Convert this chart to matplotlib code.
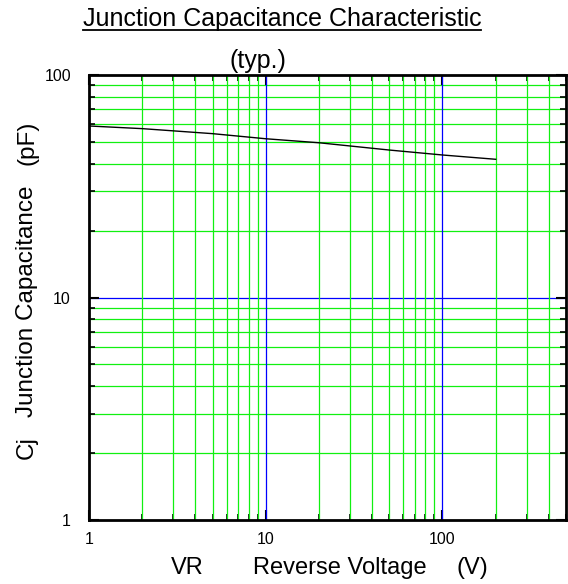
import matplotlib
matplotlib.use("Agg")
import matplotlib.pyplot as plt
from matplotlib.lines import Line2D
import numpy as np

plt.rcParams['font.family'] = ['Liberation Sans', 'DejaVu Sans']

voltage = [1, 2, 5, 10, 20, 50, 100, 200]
capacitance = [59.0, 57.4, 54.5, 51.7, 49.6, 46.0, 43.7, 41.8]

x_ticks = [1, 10, 100]
x_ticklabels = ["1", "10", "100"]
y_ticks = [1, 10, 100]
y_ticklabels = ["1", "10", "100"]

fig = plt.figure(figsize=(5.68, 5.84), dpi=100)
W, H = 568, 584
left, right, top, bottom = 89, 566, 75, 520
ax = fig.add_axes([left / W, 1 - bottom / H, (right - left) / W, (bottom - top) / H])
ax.set_xscale('log')
ax.set_yscale('log')
ax.set_xlim(1, 500)
ax.set_ylim(1, 100)

# grid lines
green = '#11f011'
blue = '#0000ff'
for dec in [1, 10, 100]:
    for m in range(2, 10):
        v = dec * m
        if v < 500:
            ax.axvline(v, color=green, lw=0.9, zorder=1.6)
for dec in [1, 10]:
    for m in range(2, 10):
        ax.axhline(dec * m, color=green, lw=0.9, zorder=1)
ax.axvline(10, color=blue, lw=0.9, zorder=1.7)
ax.axvline(100, color=blue, lw=0.9, zorder=1.7)
ax.axhline(10, color=blue, lw=0.9, zorder=1.5)

ax.plot(voltage, capacitance, color='black', lw=1.0, zorder=3)

ax.set_xticks(x_ticks)
ax.set_xticklabels(x_ticklabels)
ax.set_yticks(y_ticks)
ax.set_yticklabels(y_ticklabels)
ax.tick_params(which='both', direction='in', top=True, right=True, color='black')
ax.tick_params(which='major', length=7, width=1.5, labelsize=11.5)
ax.tick_params(axis='y', which='major', pad=13)
ax.tick_params(axis='x', which='major', pad=9)
ax.tick_params(which='minor', length=4, width=1.2)
ax.xaxis.set_minor_formatter(matplotlib.ticker.NullFormatter())
ax.yaxis.set_minor_formatter(matplotlib.ticker.NullFormatter())
for s in ax.spines.values():
    s.set_linewidth(2)
    s.set_zorder(4)

def ftext(x, y, s, **kw):
    return fig.text(x / W, 1 - y / H, s, **kw)

# x axis label pieces
ftext(171, 568, "VR", ha='left', va='center', fontsize=17)
ftext(253, 568, "Reverse Voltage", ha='left', va='center', fontsize=17)
ftext(457, 568, "(V)", ha='left', va='center', fontsize=17)

# y axis label pieces
ftext(27, 448, "Cj", ha='center', va='center', fontsize=17.5, rotation=90)
ftext(27, 301, "Junction Capacitance", ha='center', va='center', fontsize=17.5, rotation=90)
ftext(27, 143, "(pF)", ha='center', va='center', fontsize=17.5, rotation=90)

t = ftext(282, 19, "Junction Capacitance Characteristic", ha='center', va='center', fontsize=18)
ftext(258, 61, "(typ.)", ha='center', va='center', fontsize=18)

fig.canvas.draw()
bb = t.get_window_extent()
inv = fig.transFigure.inverted()
(x0, y0), (x1, y1) = inv.transform([[bb.x0, bb.y0], [bb.x1, bb.y1]])
fig.add_artist(Line2D([x0, x1], [y0 + 0.001, y0 + 0.001], color='black', lw=1.3,
                      transform=fig.transFigure))

fig.savefig("out.png", dpi=100)
